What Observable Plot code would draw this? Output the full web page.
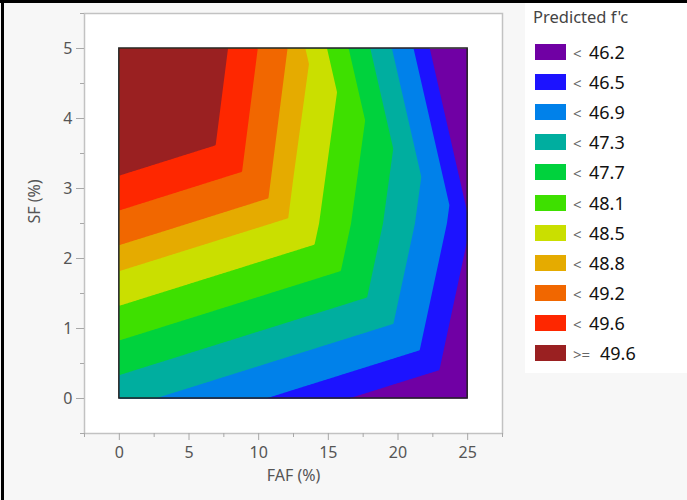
<!DOCTYPE html>
<html>
<head>
<meta charset="utf-8">
<script src="https://cdn.jsdelivr.net/npm/d3@7"></script>
<script src="https://cdn.jsdelivr.net/npm/@observablehq/plot@0.6"></script>
<style>
  html, body { margin: 0; padding: 0; background: #fff; }
  #figure { position: relative; width: 687px; height: 500px; background: #f7f7f7; overflow: hidden; font-family: "Noto Sans", sans-serif; }
  #chart { position: absolute; left: 0; top: 0; }
  #legend { position: absolute; left: 525px; top: 3px; width: 162px; height: 370px; background: #fff; }
  .edge-top { position: absolute; left: 0; top: 0; width: 687px; height: 3px; background: #000; }
  .edge-left { position: absolute; left: 1px; top: 0; width: 3px; height: 500px; background: #000; }
  .legend-title { position: absolute; left: 8px; top: 4px; font-size: 16.5px; line-height: 20px; color: #444; white-space: nowrap; }
  .swatch { position: absolute; left: 10px; width: 31px; height: 16px; }
  .entry { position: absolute; left: 48px; height: 22px; line-height: 22px; white-space: nowrap; }
  .entry .op { display: inline-block; font-size: 15px; color: #666; }
  .entry .num { font-size: 18px; color: #111; }
</style>
</head>
<body>
<div id="figure">
  <div id="chart"></div>
  <div id="legend"></div>
  <div class="edge-top"></div>
  <div class="edge-left"></div>
</div>
<script>
// Predicted compressive strength f'c on the FAF x SF design grid
const fafLevels = [0, 12.5, 25];          // FAF (%)
const sfLevels = [0, 2.5, 5];             // SF (%)
const fcAtSF0 = [47.03, 46.40, 45.77];    // f'c along FAF at SF = 0
const fcAtSF2_5 = [49.05, 48.42, 46.24];  // f'c along FAF at SF = 2.5
const fcAtSF5 = [51.06, 48.72, 45.50];    // f'c along FAF at SF = 5

// Contour levels and band colours (lowest band first)
const fcThresholds = [46.2, 46.5, 46.9, 47.3, 47.7, 48.1, 48.5, 48.8, 49.2, 49.6];
const bandColors = ["#7000a4", "#1c13ff", "#0081ea", "#00ae9f", "#00d23d", "#3ee000",
                    "#cadf00", "#e5ab00", "#f16700", "#fe2700", "#9a2021"];

// Axis ticks
const xTicks = [0, 5, 10, 15, 20, 25];
const xMinorTicks = [-2.5, 2.5, 7.5, 12.5, 17.5, 22.5, 27.5];
const yTicks = [0, 1, 2, 3, 4, 5];
const yMinorTicks = [-0.5, 0.5, 1.5, 2.5, 3.5, 4.5, 5.5];

const fcGrid = [fcAtSF0, fcAtSF2_5, fcAtSF5];

// Linear interpolation on the triangulated design grid
// (each cell split along its FAF-high / SF-low to FAF-low / SF-high diagonal)
function predictedFc(x, y) {
  const i = Math.max(0, Math.min(fafLevels.length - 2, d3.bisectRight(fafLevels, x) - 1));
  const j = Math.max(0, Math.min(sfLevels.length - 2, d3.bisectRight(sfLevels, y) - 1));
  const s = (x - fafLevels[i]) / (fafLevels[i + 1] - fafLevels[i]);
  const t = (y - sfLevels[j]) / (sfLevels[j + 1] - sfLevels[j]);
  const f00 = fcGrid[j][i], f10 = fcGrid[j][i + 1];
  const f01 = fcGrid[j + 1][i], f11 = fcGrid[j + 1][i + 1];
  return s + t <= 1
    ? f00 + s * (f10 - f00) + t * (f01 - f00)
    : f11 + (1 - s) * (f01 - f11) + (1 - t) * (f10 - f11);
}

const [fafMin, fafMax] = d3.extent(fafLevels);
const [sfMin, sfMax] = d3.extent(sfLevels);
const fcMin = d3.min(fcGrid.flat());
const intFormat = d3.format("d");

const chart = Plot.plot({
  width: 525,
  height: 500,
  marginLeft: 84,
  marginRight: 23,
  marginTop: 13,
  marginBottom: 67,
  style: {
    fontFamily: "'Noto Sans', sans-serif",
    fontSize: "16px",
    color: "#555",
    background: "transparent",
    overflow: "visible"
  },
  x: {domain: [-2.5, 27.5], label: null},
  y: {domain: [-0.5, 5.5], label: null},
  color: {type: "threshold", domain: fcThresholds, range: bandColors},
  marks: [
    Plot.frame({fill: "#fff"}),
    Plot.contour({
      fill: predictedFc,
      x1: fafMin, x2: fafMax, y1: sfMin, y2: sfMax,
      thresholds: [fcMin, ...fcThresholds],
      pixelSize: 1
    }),
    Plot.rect([{x1: fafMin, x2: fafMax, y1: sfMin, y2: sfMax}], {
      x1: "x1", x2: "x2", y1: "y1", y2: "y2",
      fill: "none", stroke: "#222", strokeWidth: 1.5
    }),
    Plot.frame({stroke: "#c2c2c2", strokeWidth: 1.5}),
    Plot.axisX(xMinorTicks, {tickSize: 4, tickFormat: () => "", stroke: "#a8a8a8"}),
    Plot.axisX(xTicks, {tickSize: 7, tickPadding: 6, tickFormat: intFormat, stroke: "#a8a8a8", fill: "#555", fontSize: 16}),
    Plot.axisY(yMinorTicks, {tickSize: 4, tickFormat: () => "", stroke: "#a8a8a8"}),
    Plot.axisY(yTicks, {tickSize: 8, tickPadding: 4, tickFormat: intFormat, stroke: "#a8a8a8", fill: "#555", fontSize: 16}),
    Plot.text(["FAF (%)"], {text: (d) => d, frameAnchor: "bottom", dy: 47, fontSize: 16, fill: "#555"}),
    Plot.text(["SF (%)"], {text: (d) => d, frameAnchor: "left", dx: -50, rotate: -90, fontSize: 16, fill: "#555"})
  ]
});
document.getElementById("chart").appendChild(chart);

// Legend: one swatch per band, highest band last
const legend = d3.select("#legend");
legend.append("div").attr("class", "legend-title").text("Predicted f'c");
const legendRows = bandColors.map((color, k) => ({
  color,
  op: k < fcThresholds.length ? "<" : ">=",
  value: k < fcThresholds.length ? fcThresholds[k] : fcThresholds[fcThresholds.length - 1]
}));
legendRows.forEach((row, k) => {
  const cy = 49 + k * 30.1;
  legend.append("div").attr("class", "swatch")
    .style("top", `${cy - 8}px`).style("background", row.color);
  const entry = legend.append("div").attr("class", "entry").style("top", `${cy - 11}px`);
  entry.append("span").attr("class", "op")
    .style("width", row.op === "<" ? "16px" : "27px").text(row.op);
  entry.append("span").attr("class", "num").text(row.value.toFixed(1));
});
</script>
</body>
</html>
